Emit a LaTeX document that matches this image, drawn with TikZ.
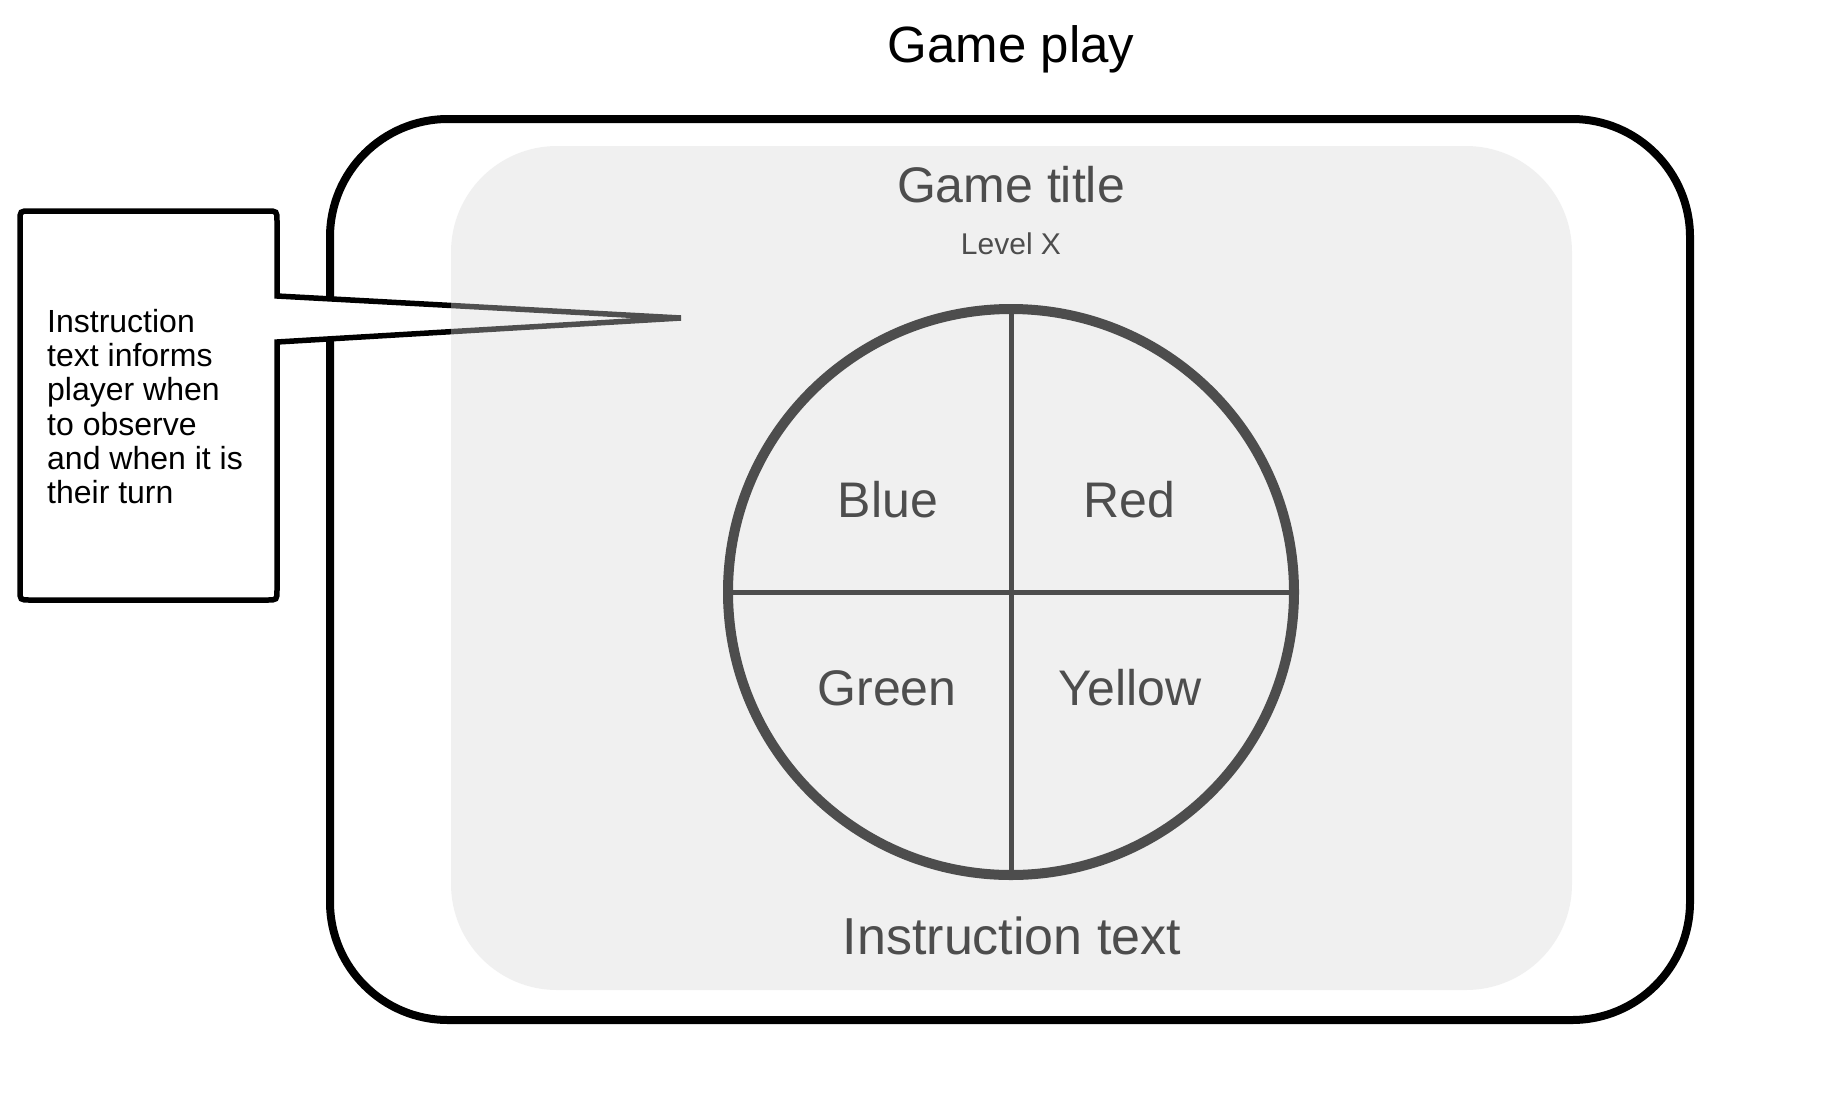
\documentclass[tikz,border=0pt]{standalone}
\usepackage{fontspec}
\setmainfont{Liberation Sans}
\definecolor{txtgray}{HTML}{4D4D4D}
\definecolor{panelfill}{RGB}{217,217,217}
\tikzset{
  outerframe/.style={draw=black, line width=8pt, fill=white, rounded corners=118pt},
  calloutbox/.style={draw=black, line width=5.5pt, fill=white, line join=miter, miter limit=4},
  panel/.style={fill=panelfill, fill opacity=0.37, draw=none, rounded corners=106pt},
  wheel/.style={circle, draw=txtgray, line width=10pt, minimum size=566pt, inner sep=0pt, outer sep=0pt},
  divider/.style={draw=txtgray, line width=5pt},
  bigtext/.style={text=txtgray, inner sep=0pt, anchor=base, font=\fontsize{50}{60}\selectfont},
  headtext/.style={text=black, inner sep=0pt, anchor=base, font=\fontsize{51}{60}\selectfont},
  smalltext/.style={text=txtgray, inner sep=0pt, anchor=base, font=\fontsize{30}{36}\selectfont},
  notetext/.style={text=black, inner sep=0pt, anchor=north west, align=left, font=\fontsize{32}{34.3}\selectfont}
}
\begin{document}
\begin{tikzpicture}[x=1pt,y=-1pt]
\useasboundingbox (0,0) rectangle (1828,1098);

% outer device frame
\path[outerframe] (330,119) rectangle (1690,1020);

% callout
\path[calloutbox] (277,296) -- (277,221)
  .. controls (277,211) .. (267,211) -- (30,211)
  .. controls (20,211) .. (20,221) -- (20,590)
  .. controls (20,600) .. (30,600) -- (267,600)
  .. controls (277,600) .. (277,590) -- (277,342)
  -- (681,318) -- cycle;
\node[notetext] (note) at (47,309) {Instruction\\text informs\\player when\\to observe\\and when it is\\their turn};

% translucent screen panel
\path[panel] (451,146) rectangle (1572,990);

% wheel
\node[wheel] (w) at (1011,592) {};
\draw[divider] (w.north) -- (w.south);
\draw[divider] (w.west) -- (w.east);

% texts
\node[headtext] (gameplay) at (1011,62) {Game play};
\node[bigtext] (gametitle) at (1011,202) {Game title};
\node[smalltext] (level) at (1011,254) {Level X};
\node[bigtext] (blue) at (888,517) {Blue};
\node[bigtext] (red) at (1129,517) {Red};
\node[bigtext] (green) at (887,705) {Green};
\node[bigtext] (yellow) at (1130,705) {Yellow};
\node[bigtext, font=\fontsize{52}{62}\selectfont] (instr) at (1012,954) {Instruction text};
\end{tikzpicture}
\end{document}
